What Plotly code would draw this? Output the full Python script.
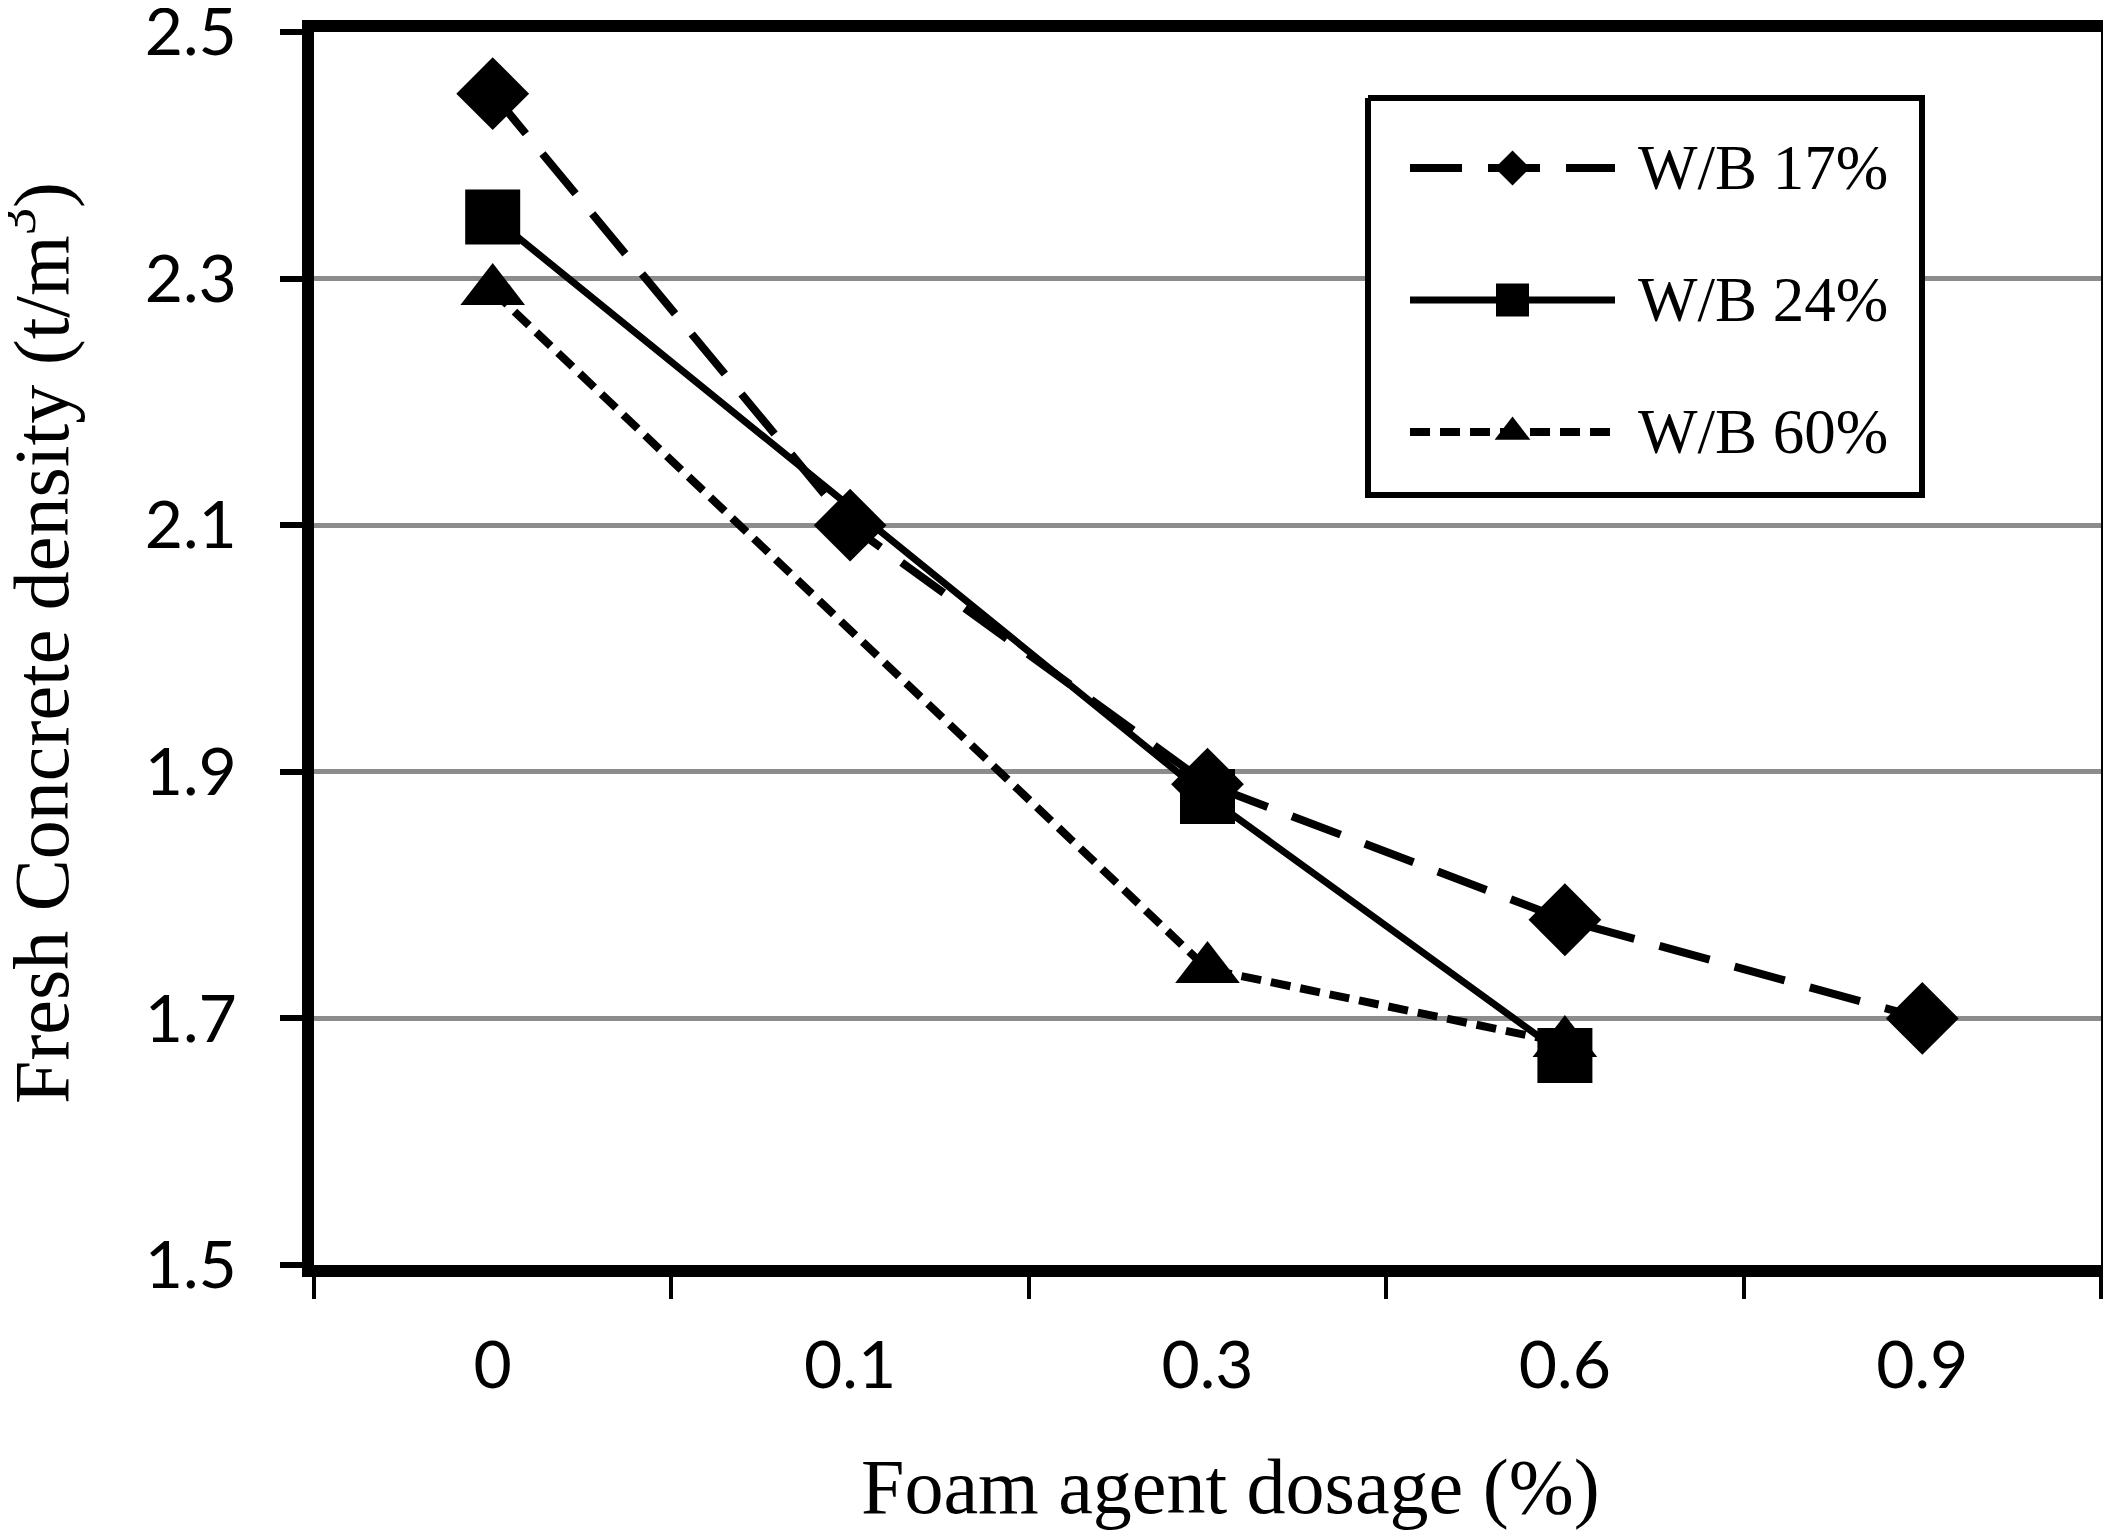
import plotly.graph_objects as go

categories = ["0", "0.1", "0.3", "0.6", "0.9"]
wb17 = [2.45, 2.10, 1.89, 1.78, 1.70]
wb24 = [2.35, None, 1.88, 1.67, None]
wb60 = [2.29, None, 1.74, 1.68, None]
names = ["W/B 17%", "W/B 24%", "W/B 60%"]
y_ticks = [1.5, 1.7, 1.9, 2.1, 2.3, 2.5]
x_title = "Foam agent dosage (%)"
y_title = "Fresh Concrete density (t/m<sup>3</sup>)"

# the page body has an 8px margin, so the figure is sized/placed to compensate
W, H = 2103, 1525
L, R, T, B = 306, 10, 24, 268
PW, PH = W - L - R, H - T - B


def px_to_paper(px, py):
    return (px - L) / PW, (H - B - py) / PH


styles = [
    dict(line=dict(color="black", width=8, dash="52px,26px"), symbol="diamond", size=56, lsize=27),
    dict(line=dict(color="black", width=7), symbol="square", size=55, lsize=33),
    dict(line=dict(color="black", width=8, dash="20px,10px"), symbol="triangle-up", size=56, lsize=31),
]
series = [wb17, wb24, wb60]

fig = go.Figure()
for nm, vals, st in zip(names, series, styles):
    fig.add_trace(go.Scatter(
        x=categories, y=vals, name=nm, mode="lines+markers", connectgaps=True,
        line=st["line"], marker=dict(symbol=st["symbol"], size=st["size"], color="black"),
        showlegend=False,
    ))

# custom legend (pixel coordinates on an overlay axis)
bx0, bx1, by0, by1 = 1360, 1914, 90, 487
row_y = [160, 292, 424]
sample_x = [1402, 1607]
text_x = 1628

fig.add_trace(go.Scatter(
    x=[bx0, bx1, bx1, bx0, bx0], y=[by0, by0, by1, by1, by0], xaxis="x2", yaxis="y2",
    mode="lines", fill="toself", fillcolor="white",
    line=dict(color="black", width=6), showlegend=False, hoverinfo="skip",
))
for nm, st, ry in zip(names, styles, row_y):
    fig.add_trace(go.Scatter(
        x=sample_x, y=[ry, ry], xaxis="x2", yaxis="y2", mode="lines",
        line=st["line"], showlegend=False, hoverinfo="skip",
    ))
    fig.add_trace(go.Scatter(
        x=[sum(sample_x) / 2], y=[ry], xaxis="x2", yaxis="y2", mode="markers",
        marker=dict(symbol=st["symbol"], size=st["lsize"], color="black"),
        showlegend=False, hoverinfo="skip",
    ))
    fig.add_annotation(x=text_x, y=ry, xref="x2", yref="y2", text=nm, showarrow=False,
                       xanchor="left", yanchor="middle",
                       font=dict(family="Liberation Serif", size=63, color="black"))

# axis titles
xt = px_to_paper(1222, 1478)
yt = px_to_paper(27, 635)
fig.add_annotation(x=xt[0], y=xt[1], xref="paper", yref="paper", text=x_title,
                   showarrow=False, xanchor="center", yanchor="middle",
                   font=dict(family="Liberation Serif", size=78, color="black"))
fig.add_annotation(x=yt[0], y=yt[1], xref="paper", yref="paper", text=y_title,
                   showarrow=False, xanchor="center", yanchor="middle", textangle=-90,
                   font=dict(family="Liberation Serif", size=78, color="black"))

fig.update_layout(
    width=W, height=H,
    margin=dict(l=L, r=R, t=T, b=B, autoexpand=False),
    paper_bgcolor="white", plot_bgcolor="white",
    showlegend=False,
    xaxis=dict(
        type="category", range=[-0.5, 4.5], automargin=False,
        showline=True, linecolor="black", linewidth=12, mirror=True,
        ticks="outside", tickson="boundaries", ticklen=22, tickwidth=4, tickcolor="black",
        ticklabelstandoff=32,
        tickfont=dict(family="Lato", size=66, color="black"),
        showgrid=False,
    ),
    yaxis=dict(
        range=[1.5, 2.5], tickvals=y_ticks, ticktext=[f"{v:.1f}" for v in y_ticks],
        automargin=False,
        showline=True, linecolor="black", linewidth=12, mirror=True,
        ticks="outside", ticklen=22, tickwidth=6, tickcolor="black",
        ticklabelstandoff=30, ticklabeloverflow="allow",
        tickfont=dict(family="Lato", size=66, color="black"),
        showgrid=True, gridcolor="#8c8c8c", gridwidth=5,
        zeroline=False,
    ),
    xaxis2=dict(overlaying="x", anchor="y2", range=[L, W - R], visible=False,
                fixedrange=True, automargin=False),
    yaxis2=dict(overlaying="y", anchor="x2", range=[H - B, T], visible=False,
                fixedrange=True, automargin=False),
)

fig.write_html("out.html")
